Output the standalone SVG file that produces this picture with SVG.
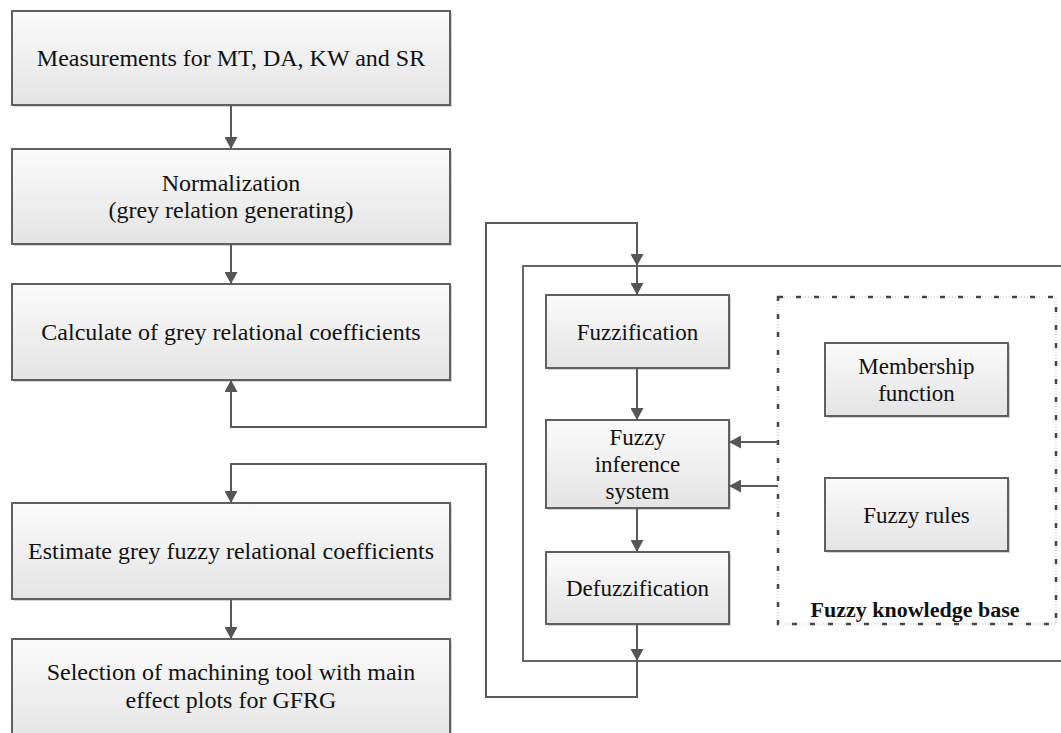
<svg xmlns="http://www.w3.org/2000/svg" width="1061" height="733" viewBox="0 0 1061 733" font-family="'Liberation Serif', 'Times New Roman', 'DejaVu Serif', serif">
<defs>
<linearGradient id="g" x1="0" y1="0" x2="0" y2="1">
<stop offset="0" stop-color="#fbfbfb"/>
<stop offset="1" stop-color="#e4e4e4"/>
</linearGradient>
<marker id="a" viewBox="0 0 12 13" refX="12" refY="6.5" markerWidth="12" markerHeight="13" markerUnits="userSpaceOnUse" orient="auto-start-reverse">
<path d="M0,0 L12,6.5 L0,13 Z" fill="#555"/>
</marker>
</defs>
<style>
.box{fill:url(#g);stroke:#606060;stroke-width:2}
.sh{fill:#d2d2d2}
text{font-family:'Liberation Serif','Times New Roman','DejaVu Serif',serif}
.t{font-size:24px;fill:#111;text-anchor:middle}
.s{font-size:23px}
.b{font-weight:bold;font-size:22px}
.c{fill:none;stroke:#5a5a5a;stroke-width:2}
</style>
<rect width="1061" height="733" fill="#fff"/>
<g id="fuzzy-system">
<rect x="523" y="266" width="545" height="395" fill="none" stroke="#666" stroke-width="2"/>
</g>
<g id="knowledge-base">
<rect x="778" y="297" width="278" height="327" fill="none" stroke="#bbb" stroke-width="1" stroke-dasharray="1 2"/>
<rect x="778" y="297" width="278" height="327" fill="none" stroke="#444" stroke-width="2.5" stroke-dasharray="5 13"/>
<text class="t b" x="915" y="617">Fuzzy knowledge base</text>
</g>
<g id="n1"><rect class="sh" x="14" y="13" width="438" height="94"/><rect class="box" x="12" y="11" width="438" height="94"/><text class="t" x="231" y="66">Measurements for MT, DA, KW and SR</text></g>
<g id="n2"><rect class="sh" x="14" y="151" width="438" height="95"/><rect class="box" x="12" y="149" width="438" height="95"/><text class="t" x="231" y="191">Normalization</text><text class="t" x="231" y="218">(grey relation generating)</text></g>
<g id="n3"><rect class="sh" x="14" y="286" width="438" height="96"/><rect class="box" x="12" y="284" width="438" height="96"/><text class="t" x="231" y="340">Calculate of grey relational coefficients</text></g>
<g id="n4"><rect class="sh" x="14" y="505" width="438" height="96"/><rect class="box" x="12" y="503" width="438" height="96"/><text class="t" x="231" y="559">Estimate grey fuzzy relational coefficients</text></g>
<g id="n5"><rect class="sh" x="14" y="641" width="438" height="106"/><rect class="box" x="12" y="639" width="438" height="106"/><text class="t" x="231" y="680">Selection of machining tool with main</text><text class="t" x="231" y="708">effect plots for GFRG</text></g>
<g id="fuzzification"><rect class="sh" x="548" y="297" width="183" height="73"/><rect class="box" x="546" y="295" width="183" height="73"/><text class="t s" x="637.5" y="340">Fuzzification</text></g>
<g id="fis"><rect class="sh" x="548" y="422" width="183" height="88"/><rect class="box" x="546" y="420" width="183" height="88"/><text class="t s" x="637.5" y="445">Fuzzy</text><text class="t s" x="637.5" y="472">inference</text><text class="t s" x="637.5" y="499">system</text></g>
<g id="defuzzification"><rect class="sh" x="548" y="554" width="183" height="72"/><rect class="box" x="546" y="552" width="183" height="72"/><text class="t s" x="637.5" y="596">Defuzzification</text></g>
<g id="membership"><rect class="sh" x="827" y="345" width="183" height="73"/><rect class="box" x="825" y="343" width="183" height="73"/><text class="t s" x="916.5" y="374">Membership</text><text class="t s" x="916.5" y="401">function</text></g>
<g id="rules"><rect class="sh" x="827" y="480" width="183" height="73"/><rect class="box" x="825" y="478" width="183" height="73"/><text class="t s" x="916.5" y="523">Fuzzy rules</text></g>
<g id="connectors">
<path class="c" d="M231,105 V149" marker-end="url(#a)"/>
<path class="c" d="M231,244 V284" marker-end="url(#a)"/>
<path class="c" d="M231,599 V639" marker-end="url(#a)"/>
<path class="c" d="M231,380 V427 H486 V223 H637 V266" marker-start="url(#a)" marker-end="url(#a)"/>
<path class="c" d="M637,266 V295" marker-end="url(#a)"/>
<path class="c" d="M637,368 V420" marker-end="url(#a)"/>
<path class="c" d="M637,508 V552" marker-end="url(#a)"/>
<path class="c" d="M637,624 V661" marker-end="url(#a)"/>
<path class="c" d="M637,661 V697 H486 V464 H231 V503" marker-end="url(#a)"/>
<path class="c" d="M778,442 H729" marker-end="url(#a)"/>
<path class="c" d="M778,486 H729" marker-end="url(#a)"/>
</g>
</svg>
